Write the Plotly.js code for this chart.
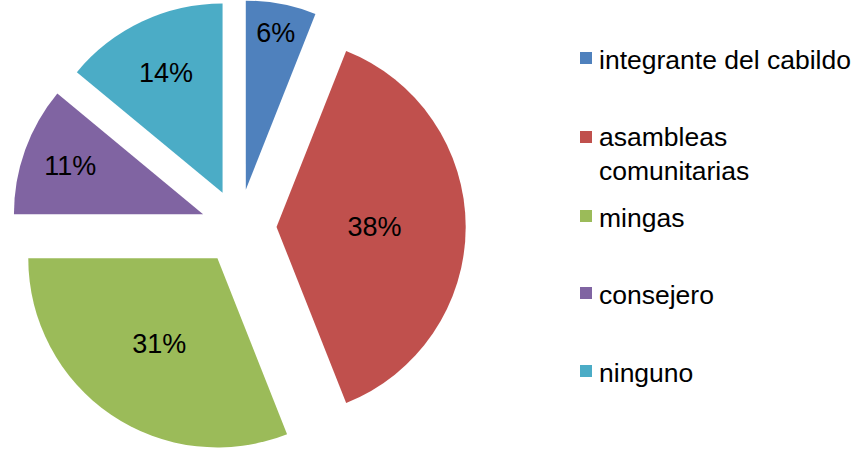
<!DOCTYPE html>
<html>
<head>
<meta charset="utf-8">
<script src="https://cdn.plot.ly/plotly-3.0.1.min.js"></script>
<style>html,body{margin:0;padding:0;background:#fff;}#chart{width:868px;height:454px;}</style>
</head>
<body>
<div id="chart"></div>
<script>
var labels = ["integrante del cabildo", "asambleas<br>comunitarias", "mingas", "consejero", "ninguno"];
var values = [6, 38, 31, 11, 14];
var colors = ["#4F81BD", "#C0504D", "#9BBB59", "#8064A2", "#4BACC6"];
var legendY = [58, 137, 216, 293, 371];

var W = 868, H = 454;
var shapes = [], annotations = [];
labels.forEach(function (lab, i) {
  var cy = legendY[i];
  shapes.push({type: "rect", xref: "paper", yref: "paper",
    x0: 580 / W, x1: 592 / W, y0: 1 - (cy - 6) / H, y1: 1 - (cy + 6) / H,
    fillcolor: colors[i], line: {width: 0}});
  var multi = lab.indexOf("<br>") >= 0;
  annotations.push({xref: "paper", yref: "paper", x: 597 / W,
    y: multi ? 1 - (cy - 17) / H : 1 - (cy + 2) / H,
    xanchor: "left", yanchor: multi ? "top" : "middle", align: "left",
    showarrow: false, text: lab,
    font: {family: "Liberation Sans, Arial, sans-serif", size: 26.5, color: "#000"}});
});

var data = [{
  type: "pie",
  labels: labels,
  values: values,
  sort: false,
  direction: "clockwise",
  rotation: 0,
  pull: [0.2, 0.2, 0.2, 0.2, 0.2],
  marker: {colors: colors, line: {width: 0}},
  textinfo: "percent",
  textposition: "inside",
  insidetextorientation: "horizontal",
  insidetextfont: {family: "Liberation Sans, Arial, sans-serif", size: 27, color: "#000"},
  domain: {x: [0, 0.55], y: [0, 1]},
  showlegend: false,
  hoverinfo: "label+percent"
}];

var layout = {
  width: W, height: H,
  margin: {l: 0, r: 0, t: 0, b: 0},
  paper_bgcolor: "#fff",
  showlegend: false,
  shapes: shapes,
  annotations: annotations
};

Plotly.newPlot("chart", data, layout, {displayModeBar: false, staticPlot: true});
</script>
</body>
</html>
